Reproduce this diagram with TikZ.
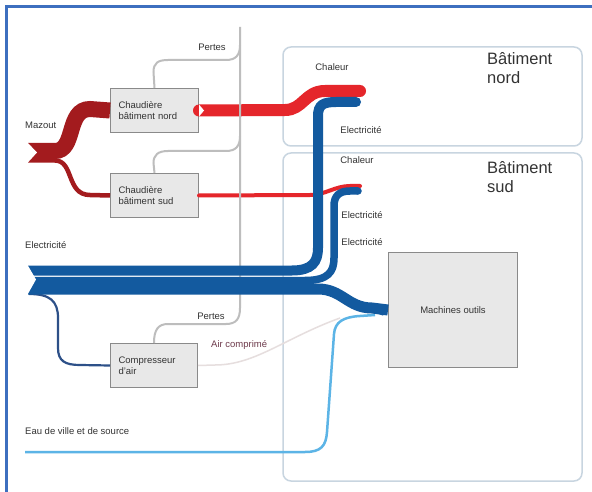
\documentclass[tikz,border=0pt]{standalone}
\usepackage{fontspec}
\setmainfont{Liberation Sans}
\definecolor{framec}{HTML}{3D6FBF}
\definecolor{mazout}{HTML}{A31B1E}
\definecolor{heat}{HTML}{E5262B}
\definecolor{elec}{HTML}{135A9F}
\definecolor{electhin}{HTML}{2D5088}
\definecolor{water}{HTML}{5CB4E6}
\definecolor{loss}{HTML}{BDBDBD}
\definecolor{boxfill}{HTML}{E8E8E8}
\definecolor{boxline}{HTML}{8A8A8A}
\definecolor{bldg}{HTML}{C8D5E0}
\definecolor{txt}{HTML}{333333}
\definecolor{airc}{HTML}{6E3B4C}
\definecolor{airline}{HTML}{E6DEDE}
\begin{document}
\begin{tikzpicture}[x=1pt,y=-1pt,
  lbl/.style={font=\fontsize{9.5}{11}\selectfont, text=txt, inner sep=0pt},
  title/.style={font=\fontsize{16.5}{19.5}\selectfont, text=txt, inner sep=0pt, align=left, anchor=north west},
  proc/.style={draw=boxline, fill=boxfill, line width=1pt, anchor=north west,
    font=\fontsize{9.5}{11.5}\selectfont, text=txt, align=left, inner ysep=0pt},
  bldgbox/.style={draw=bldg, line width=1.5pt, rounded corners=8pt, fill=white},
  losspath/.style={draw=loss, line width=2pt}
]
\useasboundingbox (0,0) rectangle (592,492);
\fill[white] (0,0) rectangle (592,492);
% outer frame (left and top edges)
\draw[framec, line width=3pt] (6,492) -- (6,7) -- (592,7);

% building outlines
\draw[bldgbox] (283,47) rectangle (582,146);
\draw[bldgbox] (283,153) rectangle (582,481);
\node[title] (tn) at (487,52) {Bâtiment\\nord};
\node[title] (ts) at (487,161) {Bâtiment\\sud};

% process boxes
\node[proc, text width=72pt, inner xsep=8pt, minimum height=44pt] (chn) at (110,88) {Chaudière\\bâtiment nord};
\node[proc, text width=72pt, inner xsep=8pt, minimum height=44pt] (chs) at (110,173) {Chaudière\\bâtiment sud};
\node[proc, text width=71pt, inner xsep=8pt, minimum height=44pt] (cmp) at (110,343) {Compresseur\\d'air};
\node[proc, minimum width=129pt, minimum height=115pt, align=center, inner xsep=0pt] (mach) at (388,252) {Machines outils};

% oil supply
\coordinate (mzin) at (28,151);
\draw[mazout, line width=16pt]
  (mzin) -- (55,151) .. controls (76,151) and (66,109) .. (90,109) -- (chn.west);
\draw[mazout, line width=4.5pt]
  (28,160.5) -- (55,160.5) .. controls (74,160.5) and (66,195) .. (90,195) -- (chs.west);
\fill[white] (27,142) -- (37,152.5) -- (27,163.5) -- cycle;

% heat to the buildings
\coordinate (hn) at (360,91);
\coordinate (hs) at (360,186);
\draw[heat, line width=12pt, line cap=round]
  (chn.east) -- (285,110) .. controls (303,110) and (305,91) .. (325,91) -- (hn);
\fill[white] (chn.east) ++(0,-6) -- ++(5,6) -- ++(-5,6) -- cycle;
\draw[heat, line width=4pt, line cap=round]
  (chs.east) -- (310,195) .. controls (325,195) and (335,186) .. (350,186) -- (hs);

% losses
\draw[losspath] (240,27) -- (240,308) .. controls (240,319) and (236,324) .. (226,324)
  -- (168,324) .. controls (158,324) and (cmp.north |- 0,330) .. (cmp.north);
\draw[losspath] (chn.north) -- (153.5,72) .. controls (153.5,63) and (158,60) .. (168,60)
  -- (226,60) .. controls (236,60) and (240,55) .. (240,45);
\draw[losspath] (chs.north) -- (153.5,163) .. controls (153.5,155) and (158,151) .. (168,151)
  -- (226,151) .. controls (236,151) and (240,146) .. (240,136);
\node[lbl] (p1) at (212,47) {Pertes};
\node[lbl] (p2) at (211,316) {Pertes};

% compressed air
\draw[airline, line width=1.5pt] (cmp.east) -- (215,365) .. controls (255,365) and (285,338) .. (340,318);
\node[lbl, text=airc, anchor=west] (air) at (211,345) {Air comprimé};

% water supply
\coordinate (win) at (25,452);
\draw[water, line width=2.5pt]
  (win) -- (305,452) .. controls (321,452) and (326,446) .. (327,432)
  -- (334,334) .. controls (335,322) and (343,317) .. (360,316) -- (375,315);

% electricity
\coordinate (ein) at (28,270.5);
\draw[electhin, line width=2.2pt]
  (29,294) .. controls (50,294) and (58,301) .. (58,318) -- (58,348)
  .. controls (58,361) and (65,365) .. (80,365) -- (cmp.west);
\draw[elec, line width=10pt]
  (ein) -- (292,270.5) .. controls (312,270.5) and (318,262) .. (318,248)
  -- (318,116) .. controls (318,105) and (323,102) .. (336,102) -- (356,102);
\fill[elec] (356,102) circle (5pt);
\draw[elec, line width=7.5pt]
  (28,280.5) -- (305,280.5) .. controls (328,280.5) and (334,272) .. (334,258)
  -- (334,206) .. controls (334,196) and (339,191) .. (350,191) -- (358,191);
\fill[elec] (358,191) circle (3.75pt);
\draw[elec, line width=11pt]
  (28,289) -- (318,289) .. controls (342,289) and (348,308) .. (372,308) -- (mach.west);
\fill[elec] (mach.west) ++(-5.5,0) circle (5.5pt);
\fill[white] (27,264) -- (36,279.5) -- (27,295.5) -- cycle;

% labels
\node[lbl, anchor=west] (lmz) at (25,125) {Mazout};
\node[lbl, anchor=west] (lel) at (25,245) {Electricité};
\node[lbl, anchor=west] (lwa) at (25,431) {Eau de ville et de source};
\node[lbl] (c1) at (332,67) {Chaleur};
\node[lbl] (e1) at (361,130) {Electricité};
\node[lbl] (c2) at (357,160) {Chaleur};
\node[lbl] (e2) at (362,215) {Electricité};
\node[lbl] (e3) at (362,242) {Electricité};
\end{tikzpicture}
\end{document}
